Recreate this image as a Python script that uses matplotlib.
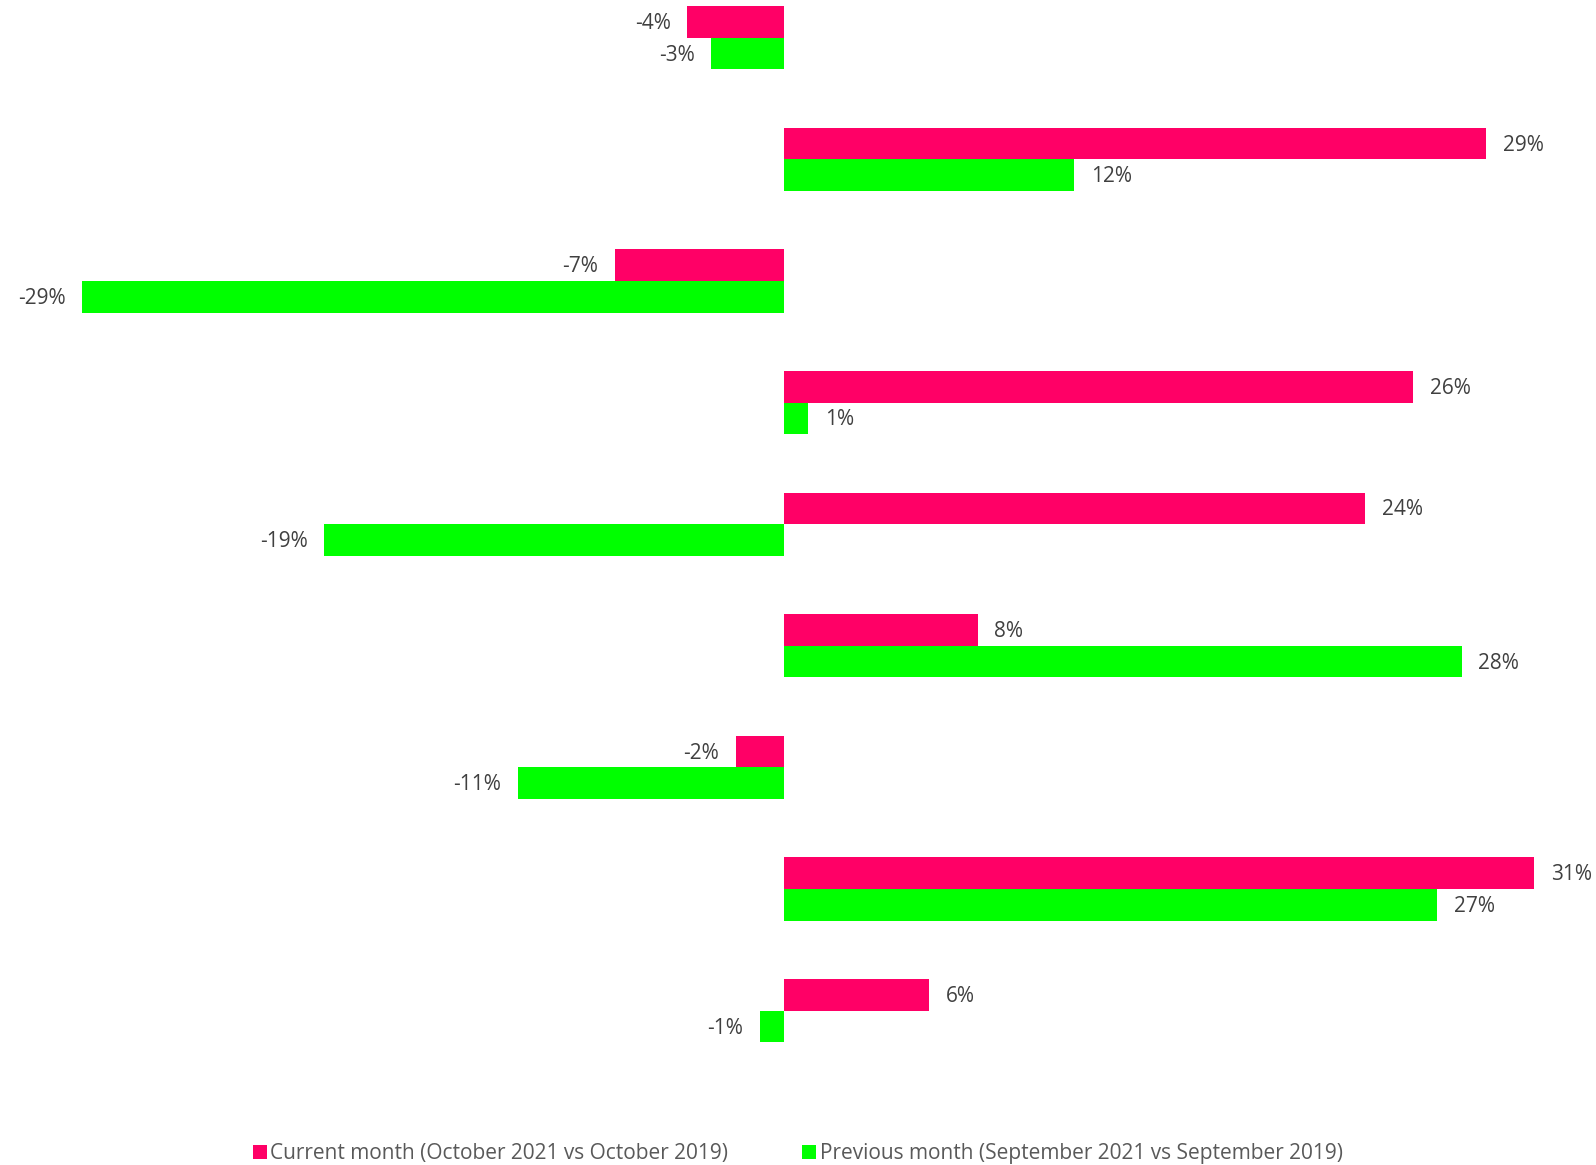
import matplotlib
matplotlib.use('Agg')
import matplotlib.pyplot as plt
import numpy as np
from matplotlib.lines import Line2D

plt.rcParams['font.family'] = ['Open Sans', 'DejaVu Sans']

current = [-4, 29, -7, 26, 24, 8, -2, 31, 6]
previous = [-3, 12, -29, 1, -19, 28, -11, 27, -1]
labels_series = ['Current month (October 2021 vs October 2019)',
                 'Previous month (September 2021 vs September 2019)']
colors = ['#FF0066', '#00FF00']

fig = plt.figure(figsize=(15.96, 11.65), dpi=100)
ax = fig.add_axes([0, 0, 1, 1])

y = np.arange(len(current))
h = 0.26
ax.barh(y - h / 2, current, height=h, color=colors[0], linewidth=0)
ax.barh(y + h / 2, previous, height=h, color=colors[1], linewidth=0)

for yy, vals in ((y - h / 2, current), (y + h / 2, previous)):
    for yi, v in zip(yy, vals):
        off = 12 if v >= 0 else -12
        ax.annotate(f'{v}%', (v, yi), xytext=(off, -1.2), textcoords='offset points',
                    ha='left' if v >= 0 else 'right', va='center',
                    fontsize=15, color='#404040')

ax.set_xlim(-32.4, 33.55)
ax.set_ylim(9.27, -0.31)
ax.axis('off')

handles = [Line2D([], [], marker='s', linestyle='none', markersize=10,
                  markerfacecolor=c, markeredgewidth=0) for c in colors]
fig.legend(handles, labels_series, loc='center', bbox_to_anchor=(0.5, 1 - 1154 / 1165),
           ncol=2, frameon=False, fontsize=15, labelcolor='#595959',
           handlelength=0.6, handletextpad=0.2, columnspacing=3.6, borderaxespad=0)

fig.savefig('out.png', dpi=100)
